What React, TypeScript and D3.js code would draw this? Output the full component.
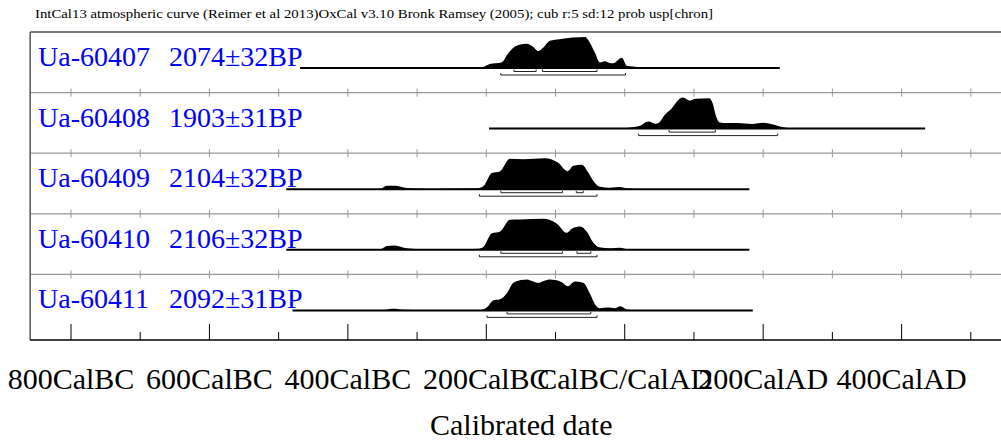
import React from 'react';
import * as d3 from 'd3';

const width = 1001;
const height = 441;

// header line
const titleText = 'IntCal13 atmospheric curve (Reimer et al 2013)OxCal v3.10 Bronk Ramsey (2005); cub r:5 sd:12 prob usp[chron]';

// samples
const sampleNames = ['Ua-60407', 'Ua-60408', 'Ua-60409', 'Ua-60410', 'Ua-60411'];
const sampleAges = ['2074±32BP', '1903±31BP', '2104±32BP', '2106±32BP', '2092±31BP'];

// extent of the baseline line of each distribution (calendar years, BC negative)
const lineStart = [-469, -196, -489, -489, -480];
const lineEnd = [224, 434, 180, 180, 185];

// relative probability (0-100): [year, value]
const dens60407 = [
  [-469, 0], [-360, 0], [-339, 2], [-320, 1], [-250, 0.5], [-215, 1], [-205, 3], [-195, 13], [-178, 18], [-169, 45],
  [-161, 65], [-151, 76], [-142, 78], [-132, 68], [-125, 54], [-118, 65], [-108, 88], [-94, 93],
  [-75, 98], [-57, 100], [-53, 91], [-43, 49], [-36, 18], [-28, 22], [-24, 18], [-17, 15],
  [-4, 33], [3, 7], [12, 5], [22, 2], [45, 0.5], [70, 0], [224, 0],
];
const dens60408 = [
  [-196, 0], [-60, 0], [-34, 0.5], [0, 2], [21, 8], [34, 23], [44, 16], [50, 20], [57, 42], [67, 63],
  [80, 97], [84, 100], [94, 90], [102, 96], [122, 98], [127, 82], [132, 40], [137, 20], [148, 18],
  [163, 18], [184, 15], [201, 19], [211, 15], [235, 2], [249, 0], [434, 0],
];
const dens60409 = [
  [-489, 0], [-362, 0], [-353, 1], [-344, 11], [-332, 11], [-315, 4], [-281, 1], [-228, 2], [-212, 3],
  [-204, 10], [-192, 52], [-180, 58], [-166, 98], [-146, 97], [-115, 100], [-96, 85], [-83, 58],
  [-74, 76], [-62, 79], [-53, 55], [-45, 26], [-37, 9], [-21, 5], [-7, 7], [5, 2], [22, 0], [180, 0],
];
const dens60410 = [
  [-489, 0], [-362, 0], [-353, 1], [-344, 12], [-332, 14], [-315, 5], [-281, 1], [-228, 2], [-212, 3],
  [-204, 10], [-192, 53], [-180, 59], [-166, 97], [-151, 98], [-118, 100], [-98, 84], [-84, 55],
  [-76, 69], [-64, 75], [-55, 59], [-45, 22], [-37, 8], [-21, 5], [-7, 7], [5, 2], [22, 0], [180, 0],
];
const dens60411 = [
  [-480, 0], [-360, 0], [-345, 2], [-334, 5], [-320, 2], [-290, 0.5], [-215, 0.5], [-209, 1], [-199, 10],
  [-190, 32], [-180, 36], [-170, 56], [-161, 89], [-150, 98], [-141, 100], [-133, 94], [-125, 89],
  [-116, 96], [-108, 100], [-100, 98], [-91, 91], [-82, 78], [-72, 93], [-60, 89], [-50, 53],
  [-43, 20], [-36, 7], [-24, 9], [-14, 7], [-6, 13], [3, 3], [22, 0], [185, 0],
];
const densities = [dens60407, dens60408, dens60409, dens60410, dens60411];

// highest probability ranges
const ranges68 = [
  [[-160, -128], [-119, -40]],
  [[64, 131]],
  [[-179, -90], [-70, -60]],
  [[-179, -90], [-69, -49]],
  [[-170, -49]],
];
const ranges95 = [
  [[-179, 1]],
  [[20, 221]],
  [[-210, -40]],
  [[-210, -40]],
  [[-199, -40]],
];

// axis
const majorTicks = [-800, -600, -400, -200, 0, 200, 400];
const majorLabels = ['800CalBC', '600CalBC', '400CalBC', '200CalBC', 'CalBC/CalAD', '200CalAD', '400CalAD'];
const minorTicks = [-700, -500, -300, -100, 100, 300, 500];
const rowTicks = [-800, -700, -600, -500, -400, -300, -200, -100, 0, 100, 200, 300, 400, 500];
const axisTitle = 'Calibrated date';

const frameStartYear = -859;
const frameEndYear = 560;

const frameTop = 32;
const frameBottom = 340;
const rowH = 60.6;
const baseOffset = 36;

const serif = '"Liberation Serif", "Times New Roman", serif';

export default function App() {
  const x = d3.scaleLinear().domain([-800, 400]).range([71, 901.6]);
  const h = d3.scaleLinear().domain([0, 100]).range([0, 31]);
  const x0 = x(frameStartYear);
  const x1 = x(frameEndYear);

  return (
    <svg width={width} height={height} style={{ position: 'absolute', left: 0, top: 0, background: '#fff' }}>
      <text x={35} y={18} fontFamily={serif} fontSize={13} textLength={678} lengthAdjust="spacingAndGlyphs" fill="#000">
        {titleText}
      </text>

      {/* row separators with ticks */}
      {[1, 2, 3, 4].map((i) => {
        const yy = frameTop + i * rowH;
        return (
          <g key={'sep' + i}>
            <line x1={x0} x2={x1} y1={yy} y2={yy} stroke="#999" strokeWidth={1.2} />
            {rowTicks.map((t) => (
              <line key={t} x1={x(t)} x2={x(t)} y1={yy - 4} y2={yy + 4} stroke="#999" strokeWidth={1} />
            ))}
          </g>
        );
      })}

      {/* frame */}
      <line x1={x0} x2={x1} y1={frameTop} y2={frameTop} stroke="#555" strokeWidth={1.5} />
      <line x1={x0} x2={x0} y1={frameTop} y2={frameBottom} stroke="#555" strokeWidth={1.5} />
      <line x1={x0} x2={x1} y1={frameBottom} y2={frameBottom} stroke="#000" strokeWidth={1.3} />
      {majorTicks.map((t) => (
        <line key={'M' + t} x1={x(t)} x2={x(t)} y1={frameBottom - 16} y2={frameBottom} stroke="#000" strokeWidth={1} />
      ))}
      {minorTicks.map((t) => (
        <line key={'m' + t} x1={x(t)} x2={x(t)} y1={frameBottom - 8} y2={frameBottom} stroke="#000" strokeWidth={1} />
      ))}

      {/* distributions */}
      {densities.map((d, i) => {
        const base = frameTop + i * rowH + baseOffset;
        const area = d3
          .area<number[]>()
          .x((p) => x(p[0]))
          .y0(base)
          .y1((p) => base - h(p[1]))
          .curve(d3.curveMonotoneX);
        return (
          <g key={'row' + i}>
            <text x={38} y={base - 2} fontFamily={serif} fontSize={28} fill="#0000ff">
              {sampleNames[i]}
            </text>
            <text x={169} y={base - 2} fontFamily={serif} fontSize={28} fill="#0000ff">
              {sampleAges[i]}
            </text>
            <path d={area(d) || ''} fill="#000" />
            <line x1={x(lineStart[i])} x2={x(lineEnd[i])} y1={base} y2={base} stroke="#000" strokeWidth={2} />
            {ranges68[i].map((r, j) => (
              <path
                key={'a' + j}
                d={`M${x(r[0])},${base + 1.5}V${base + 3.5}H${x(r[1])}V${base + 1.5}`}
                fill="none"
                stroke="#222"
                strokeWidth={1}
              />
            ))}
            {ranges95[i].map((r, j) => (
              <path
                key={'b' + j}
                d={`M${x(r[0])},${base + 5}V${base + 7}H${x(r[1])}V${base + 5}`}
                fill="none"
                stroke="#222"
                strokeWidth={1}
              />
            ))}
          </g>
        );
      })}

      {/* axis labels */}
      {majorTicks.map((t, i) => (
        <text key={'l' + t} x={x(t)} y={389} textAnchor="middle" fontFamily={serif} fontSize={30} fill="#000">
          {majorLabels[i]}
        </text>
      ))}
      <text x={(x0 + x1) / 2} y={435} textAnchor="middle" fontFamily={serif} fontSize={30} fill="#000">
        {axisTitle}
      </text>
    </svg>
  );
}
